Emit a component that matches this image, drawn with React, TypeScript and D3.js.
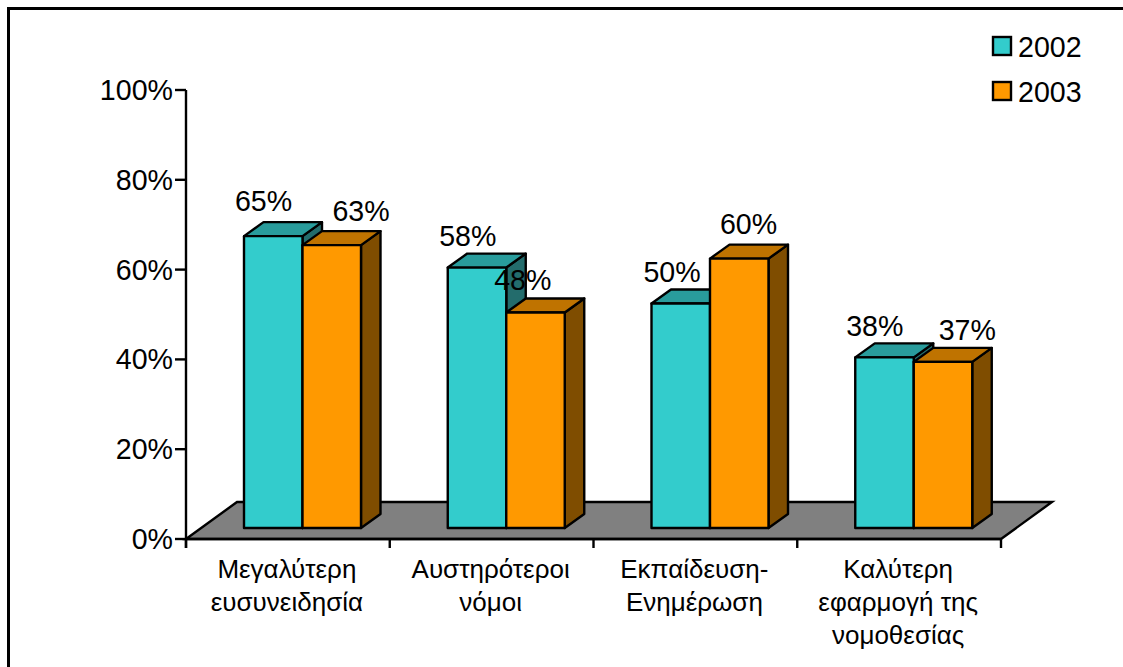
import React from "react";
import * as d3 from "d3";

const years = ["2002", "2003"];
const categories = [
  ["Μεγαλύτερη", "ευσυνειδησία"],
  ["Αυστηρότεροι", "νόμοι"],
  ["Εκπαίδευση-", "Ενημέρωση"],
  ["Καλύτερη", "εφαρμογή της", "νομοθεσίας"],
];
const values2002 = [65, 58, 50, 38];
const values2003 = [63, 48, 60, 37];
const labels2002 = ["65%", "58%", "50%", "38%"];
const labels2003 = ["63%", "48%", "60%", "37%"];
const ticks = [0, 20, 40, 60, 80, 100];

const colors = [
  { front: "#33CCCC", top: "#299C9C", side: "#236C6C" },
  { front: "#FF9900", top: "#BF7300", side: "#7F4D00" },
];
const font = "'Liberation Sans', Arial, sans-serif";
const fs = 28.6;

const y = d3.scaleLinear().domain([0, 100]).range([539, 90]);
const x = d3.scaleBand<number>().domain([0, 1, 2, 3]).range([186, 1001]);
const floorDx = 51, floorDy = 37;
const barDx = 19.5, barDy = 14;
const baseY = 528;
const barW = 58.5;
// label nudges: the source chart has hand-placed data labels
const nudge2002 = [19, 19.5, 20, 19];
const nudge2003 = [58, 16, 38, 53];
const rise2002 = [25, 22, 22, 21];
const rise2003 = [24, 22, 25, 22];

export default function App() {
  const h0 = y(0);
  const series = [values2002, values2003];
  const labels = [labels2002, labels2003];
  const nudges = [nudge2002, nudge2003];
  const rises = [rise2002, rise2003];
  const bars: React.ReactNode[] = [];
  categories.forEach((_, c) => {
    const gx = (x(c) as number) + 58;
    [0, 1].forEach((s) => {
      const v = series[s][c];
      const x0 = gx + s * barW;
      const top = baseY - (h0 - y(v));
      const col = colors[s];
      bars.push(
        <g key={`${c}-${s}`} stroke="#000" strokeWidth={2.4} strokeLinejoin="round">
          <path fill={col.side} d={`M${x0 + barW},${baseY}L${x0 + barW + barDx},${baseY - barDy}L${x0 + barW + barDx},${top - barDy}L${x0 + barW},${top}Z`} />
          <path fill={col.top} d={`M${x0},${top}L${x0 + barDx},${top - barDy}L${x0 + barW + barDx},${top - barDy}L${x0 + barW},${top}Z`} />
          <rect x={x0} y={top} width={barW} height={baseY - top} fill={col.front} />
        </g>
      );
    });
  });
  return (
    <svg width={1123} height={667} style={{ position: "absolute", left: 0, top: 0, background: "#fff" }} fontFamily={font}>
      <path d="M8.5,670V8.5H1123" fill="none" stroke="#000" strokeWidth={3} />
      <path
        d={`M${x.range()[0]},${h0}L${x.range()[0] + floorDx},${h0 - floorDy}L${x.range()[1] + floorDx},${h0 - floorDy}L${x.range()[1]},${h0}Z`}
        fill="#808080" stroke="#000" strokeWidth={2.4}
      />
      <g stroke="#000" strokeWidth={2.4}>
        <line x1={186} x2={186} y1={y(100)} y2={h0 + 9} />
        <line x1={186} x2={1001} y1={h0} y2={h0} />
        {ticks.map((t) => (
          <line key={t} x1={175} x2={186} y1={y(t)} y2={y(t)} />
        ))}
        {[0, 1, 2, 3, 4].map((i) => {
          const px = i < 4 ? (x(i) as number) : x.range()[1];
          return <line key={i} x1={px} x2={px} y1={h0} y2={h0 + 9} />;
        })}
      </g>
      {ticks.map((t) => (
        <text key={t} x={173} y={y(t) + 10} textAnchor="end" fontSize={fs} fill="#000">{t}%</text>
      ))}
      {bars}
      {categories.map((lines, c) => {
        const cx = (x(c) as number) + x.bandwidth() / 2;
        return lines.map((l, i) => (
          <text key={`${c}-${i}`} x={cx - 1} y={578 + i * 33} textAnchor="middle" fontSize={26} fill="#000">{l}</text>
        ));
      })}
      {categories.map((_, c) => {
        const gx = (x(c) as number) + 58.5;
        return [0, 1].map((s) => {
          const v = series[s][c];
          const top = baseY - (h0 - y(v));
          return (
            <text key={`${c}-${s}`} x={gx + s * barW + nudges[s][c]} y={top - rises[s][c]} textAnchor="middle" fontSize={fs} fill="#000">
              {labels[s][c]}
            </text>
          );
        });
      })}
      {years.map((yr, i) => (
        <g key={yr}>
          <rect x={993} y={37 + i * 45} width={18} height={18} fill={colors[i].front} stroke="#000" strokeWidth={2.4} />
          <text x={1018} y={57 + i * 44.5} fontSize={fs} fill="#000">{yr}</text>
        </g>
      ))}
    </svg>
  );
}
